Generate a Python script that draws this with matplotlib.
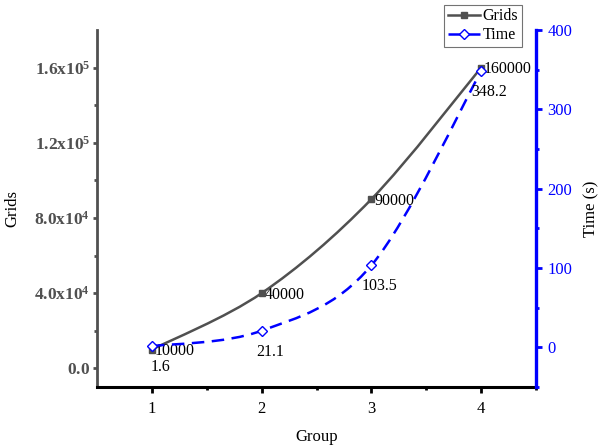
import numpy as np
import matplotlib
matplotlib.use("Agg")
import matplotlib.pyplot as plt
from matplotlib.path import Path
from matplotlib.patches import PathPatch
from matplotlib.lines import Line2D

# --- donnees ---
groups = [1, 2, 3, 4]
grids = [10000, 40000, 90000, 160000]
times = [1.6, 21.1, 103.5, 348.2]
grid_labels = ["10000", "40000", "90000", "160000"]
time_labels = ["1.6", "21.1", "103.5", "348.2"]
left_ticks = [0, 4e4, 8e4, 1.2e5, 1.6e5]
left_ticklabels = [r"$\mathbf{0.0}$", r"$\mathbf{4.0x10^{4}}$", r"$\mathbf{8.0x10^{4}}$",
                   r"$\mathbf{1.2x10^{5}}$", r"$\mathbf{1.6x10^{5}}$"]
right_ticks = [0, 100, 200, 300, 400]

GRAY = "#505050"
BLUE = "#0000FF"

plt.rcParams["font.family"] = ["Liberation Serif", "DejaVu Serif"]
plt.rcParams["mathtext.fontset"] = "custom"
plt.rcParams["mathtext.rm"] = "Liberation Serif"
plt.rcParams["mathtext.bf"] = "Liberation Serif:bold"


def smooth_path(x, y):
    # courbe lissee (Catmull-Rom -> Bezier) passant par les points
    p = np.column_stack([x, y]).astype(float)
    n = len(p)
    verts = [tuple(p[0])]
    codes = [Path.MOVETO]
    for i in range(n - 1):
        p0 = p[i - 1] if i > 0 else p[i]
        p1, p2 = p[i], p[i + 1]
        p3 = p[i + 2] if i + 2 < n else p[i + 1]
        c1 = p1 + (p2 - p0) / 6.0
        c2 = p2 - (p3 - p1) / 6.0
        verts += [tuple(c1), tuple(c2), tuple(p2)]
        codes += [Path.CURVE4] * 3
    return Path(verts, codes)


fig = plt.figure(figsize=(6.03, 4.47), dpi=100)
ax = fig.add_axes([0.161, 0.134, 0.728, 0.799])
ax2 = ax.twinx()

# Grids
ax.add_patch(PathPatch(smooth_path(groups, grids), fill=False, ec=GRAY, lw=1.8, zorder=3))
ax.plot(groups, grids, "s", color=GRAY, ms=5, zorder=4)
for g, v, lab in zip(groups, grids, grid_labels):
    ax.annotate(lab, (g, v), xytext=(2, -1), textcoords="offset points",
                ha="left", va="center", fontsize=11.5, color="black")

# Time
ax2.add_patch(PathPatch(smooth_path(groups, times), fill=False, ec=BLUE, lw=1.8,
                        ls=(0, (5, 3)), zorder=3))
ax2.plot(groups, times, "D", mfc="white", mec=BLUE, mew=1.0, ms=5, zorder=4)
for g, v, lab in zip(groups, times, time_labels):
    ax2.annotate(lab, (g, v), xytext=(6, -15), textcoords="offset points",
                 ha="center", va="center", fontsize=11.5, color="black")

ax.set_xlim(0.5, 4.5)
ax.set_ylim(-1e4, 1.8e5)
ax2.set_ylim(-50, 400)

ax.set_xticks(groups)
ax.set_xticks([1.5, 2.5, 3.5, 4.5], minor=True)
ax.set_yticks(left_ticks)
ax.set_yticklabels(left_ticklabels)
ax.set_yticks([2e4, 6e4, 1e5, 1.4e5], minor=True)
ax2.set_yticks(right_ticks)
ax2.set_yticks([-50, 50, 150, 250, 350], minor=True)

ax.set_xlabel("Group", fontsize=12, labelpad=9)
ax.set_ylabel("Grids", fontsize=12)
ax.yaxis.set_label_coords(-0.175, 0.5)
ax2.set_ylabel("Time (s)", fontsize=12, labelpad=8)

for a in (ax, ax2):
    a.spines["top"].set_visible(False)
ax.spines["right"].set_visible(False)
ax2.spines["left"].set_visible(False)
ax2.spines["bottom"].set_visible(False)
ax.spines["left"].set_color(GRAY)
ax.spines["left"].set_linewidth(2.0)
ax.spines["bottom"].set_color("black")
ax.spines["bottom"].set_linewidth(2.2)
ax2.spines["right"].set_color(BLUE)
ax2.spines["right"].set_linewidth(2.4)

ax.tick_params(axis="x", which="major", direction="out", length=4, width=2, colors="black",
               labelsize=12, pad=6)
ax.tick_params(axis="x", which="minor", direction="out", length=2.5, width=2, colors="black")
ax.tick_params(axis="y", which="major", direction="out", length=3, width=2, color=GRAY,
               labelcolor=GRAY, labelsize=12.5, pad=2)
ax.tick_params(axis="y", which="minor", direction="out", length=2, width=2, color=GRAY)
ax2.tick_params(axis="y", which="major", direction="out", length=4, width=2, colors=BLUE,
                labelsize=12, pad=4)
ax2.tick_params(axis="y", which="minor", direction="out", length=2.5, width=2, colors=BLUE)

handles = [Line2D([], [], color=GRAY, lw=1.8, marker="s", ms=5),
           Line2D([], [], color=BLUE, lw=1.8, ls=(0, (5, 3)), marker="D", ms=5,
                  mfc="white", mec=BLUE)]
leg = fig.legend(handles, ["Grids", "Time"], loc="upper left",
                 bbox_to_anchor=(0.737, 0.989), fontsize=11.5, frameon=True, fancybox=False,
                 edgecolor=GRAY, handlelength=2.0, borderpad=0.2, labelspacing=0.2,
                 handletextpad=0.2, borderaxespad=0)
leg.get_frame().set_linewidth(0.8)

fig.savefig("out.png", dpi=100)
